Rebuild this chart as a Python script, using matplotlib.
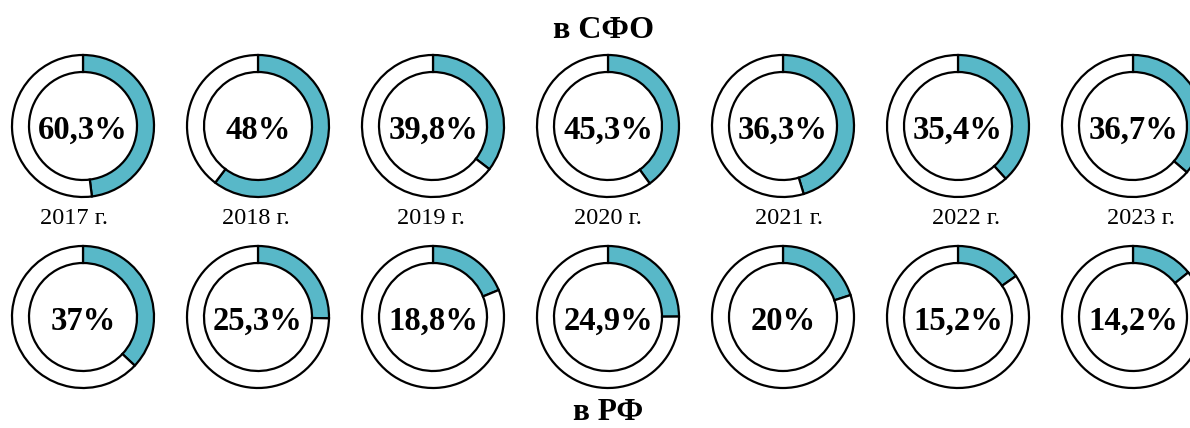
import matplotlib
matplotlib.use("Agg")
import matplotlib.pyplot as plt

years = ["2017 г.", "2018 г.", "2019 г.", "2020 г.", "2021 г.", "2022 г.", "2023 г."]
# values printed in the centre of each ring
labels_sfo = ["60,3%", "48%", "39,8%", "45,3%", "36,3%", "35,4%", "36,7%"]
labels_rf = ["37%", "25,3%", "18,8%", "24,9%", "20%", "15,2%", "14,2%"]
# share of the ring filled (read from the drawn arcs)
arc_sfo = [48.0, 60.3, 35.4, 40.0, 45.3, 38.3, 36.3]
arc_rf = [37.0, 25.3, 18.8, 24.9, 20.0, 15.2, 14.2]

title_top = "в СФО"
title_bottom = "в РФ"

TEAL = "#58b8c8"
W, H = 1190, 428

fig = plt.figure(figsize=(W / 100, H / 100), dpi=100)
ax = fig.add_axes([0, 0, 1, 1])

x0, dx = 83, 175
radius, ring = 71, 17
y_top, y_bot = H - 126, H - 317
year_shift = [-9, -2, -2, 0, 6, 8, 8]

serif = ["Liberation Serif", "DejaVu Serif"]

for row, (arcs, labels, cy) in enumerate([(arc_sfo, labels_sfo, y_top), (arc_rf, labels_rf, y_bot)]):
    for i, (v, lab) in enumerate(zip(arcs, labels)):
        cx = x0 + i * dx
        ax.pie([v, 100 - v], center=(cx, cy), radius=radius, startangle=90,
               counterclock=False, colors=[TEAL, "white"], frame=True,
               wedgeprops=dict(width=ring, edgecolor="black", linewidth=1.6))
        ax.text(cx, cy - 1, lab, ha="center", va="center_baseline", family=serif,
                fontweight="bold", fontsize=23.5)
        if row == 0:
            ax.text(cx + year_shift[i], H - 218, years[i], ha="center", va="center",
                    family=serif, fontsize=17.5)

ax.text(x0 + 3 * dx - 4, H - 30, title_top, ha="center", va="center", family=serif,
        fontweight="bold", fontsize=23)
ax.text(x0 + 3 * dx, H - 413, title_bottom, ha="center", va="center", family=serif,
        fontweight="bold", fontsize=22.5)

ax.set_xlim(0, W)
ax.set_ylim(0, H)
ax.set_aspect("equal")
ax.axis("off")
fig.savefig("out.png", dpi=100, facecolor="white")
